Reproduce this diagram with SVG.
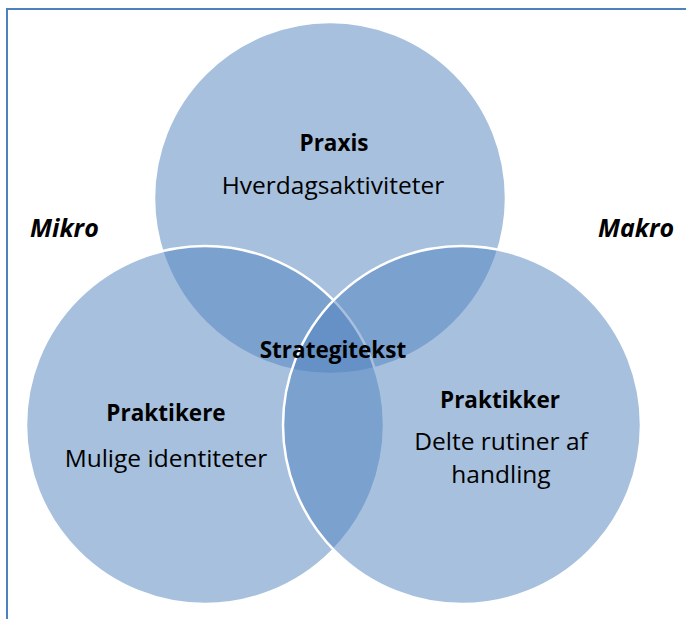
<svg xmlns="http://www.w3.org/2000/svg" width="686" height="619" viewBox="0 0 686 619">
<style>
.c{fill:#4F81BD;fill-opacity:0.5;stroke:#fff;stroke-width:2.5}
text{font-family:"Open Sans","Liberation Sans",sans-serif;font-size:24.5px;fill:#000;text-anchor:middle}
.b{font-weight:bold;font-size:22.5px}
.i{font-weight:bold;font-style:italic;font-size:25px;text-anchor:start}
</style>
<rect width="686" height="619" fill="#fff"/>
<path d="M7,619 V9 H686" fill="none" stroke="#4F81BD" stroke-width="2"/>
<g id="praxis"><circle class="c" cx="330" cy="198" r="176"/></g>
<g id="praktikere"><circle class="c" cx="205" cy="425" r="179"/></g>
<g id="praktikker"><circle class="c" cx="462" cy="425" r="179"/></g>
<g id="labels">
<text class="b" x="334" y="151">Praxis</text>
<text x="333" y="194">Hverdagsaktiviteter</text>
<text class="b" x="333" y="358">Strategitekst</text>
<text class="b" x="166" y="421">Praktikere</text>
<text x="166" y="467">Mulige identiteter</text>
<text class="b" x="500" y="408">Praktikker</text>
<text x="501" y="450">Delte rutiner af</text>
<text x="501" y="483">handling</text>
<text class="i" x="30" y="237">Mikro</text>
<text class="i" x="598" y="237">Makro</text>
</g>
<g id="connectors"/>
</svg>
